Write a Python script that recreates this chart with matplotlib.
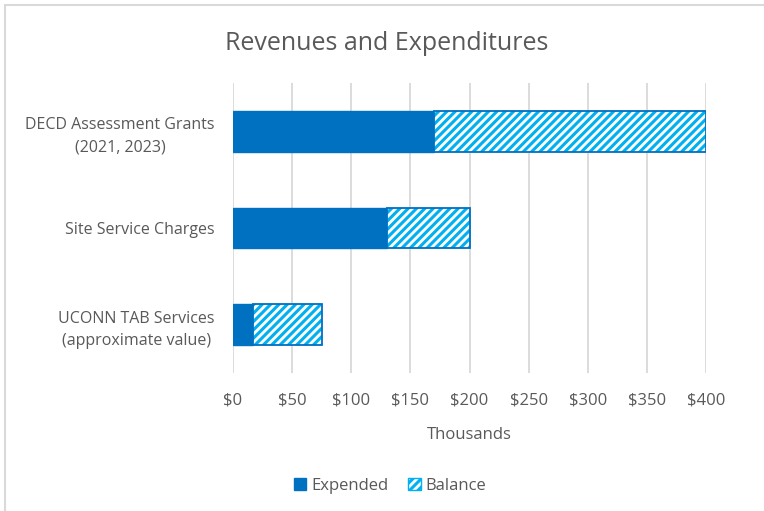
import matplotlib
matplotlib.use("Agg")
import matplotlib.pyplot as plt
from matplotlib.patches import Rectangle, Patch
from matplotlib.ticker import FuncFormatter

categories = ["DECD Assessment Grants\n(2021, 2023)", "Site Service Charges",
              "UCONN TAB Services\n(approximate value)"]
expended = [170, 130, 17]
balance = [230, 70, 58]
xticks = [0, 50, 100, 150, 200, 250, 300, 350, 400]

DARK = "#0070C0"
LIGHT = "#00B0F0"
TXT = "#595959"

plt.rcParams['font.family'] = ['Open Sans', 'DejaVu Sans']
plt.rcParams['hatch.linewidth'] = 2.2

fig = plt.figure(figsize=(7.64, 5.11), dpi=100)
ax = fig.add_axes([233/764, 1-373/511, 473/764, 290/511])

y = list(range(len(categories)))
h = 0.42
ax.barh(y, expended, height=h, color=DARK, edgecolor=DARK, linewidth=1, zorder=3)
ax.barh(y, balance, left=expended, height=h, color="white", edgecolor=LIGHT,
        hatch="////", linewidth=0, zorder=3)
ax.barh(y, balance, left=expended, height=h, color="none", edgecolor=DARK,
        linewidth=1.3, zorder=4)

ax.set_ylim(2.5, -0.5)
ax.set_xlim(0, 400)
ax.set_xticks(xticks)
ax.xaxis.set_major_formatter(FuncFormatter(lambda v, p: f"${v:.0f}"))
ax.set_yticks(y)
ax.set_yticklabels(categories, ha="right", multialignment="center", fontsize=11.5,
                   color=TXT, linespacing=1.5)
ax.tick_params(axis="y", length=0, pad=13)
ax.tick_params(axis="x", length=0, labelsize=12, labelcolor=TXT, pad=14)
ax.grid(axis="x", color="#d9d9d9", linewidth=1.3, zorder=0)
for s in ax.spines.values():
    s.set_visible(False)
ax.set_xlabel("Thousands", fontsize=12, color=TXT, labelpad=13)

fig.text(387/764, 1-43/511, "Revenues and Expenditures", ha="center", va="center",
         fontsize=18, color=TXT)

# chart border
fig.patches.append(Rectangle((5/764, -0.1), 1.2, 1-5/511+0.1, transform=fig.transFigure,
                             fill=False, edgecolor="#d9d9d9", linewidth=1.5))

handles = [Patch(facecolor=DARK, edgecolor=DARK),
           Patch(facecolor="white", edgecolor=LIGHT, hatch="////", linewidth=1.0)]
leg = fig.legend(handles, ["Expended", "Balance"], loc="center",
                 bbox_to_anchor=(390/764, 1-486/511), ncol=2, frameon=False,
                 fontsize=12, handlelength=0.75, handleheight=0.75, handletextpad=0.3,
                 columnspacing=1.2)
for t in leg.get_texts():
    t.set_color(TXT)

fig.savefig("out.png", dpi=100)
